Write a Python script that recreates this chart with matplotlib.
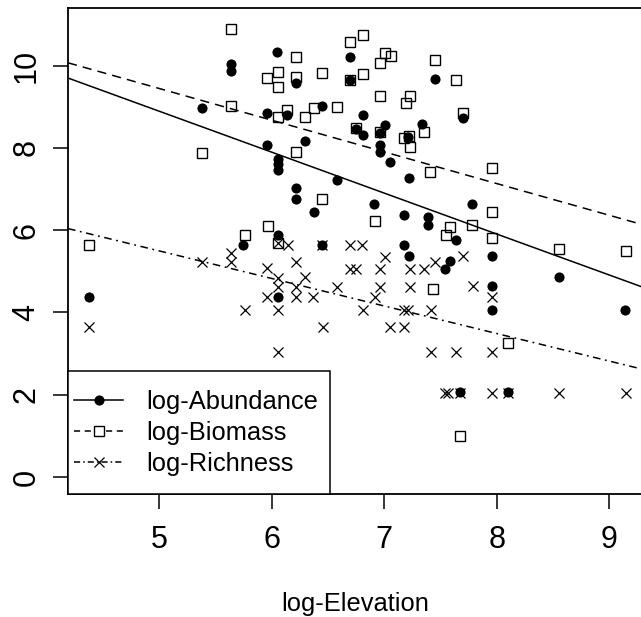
import matplotlib
matplotlib.use("Agg")
import matplotlib.pyplot as plt
from matplotlib.lines import Line2D
from matplotlib.patches import Rectangle
import numpy as np

plt.rcParams['font.family'] = ['Liberation Sans', 'DejaVu Sans']

# ---- data ----
abund_x = [4.38, 5.38, 5.64, 5.64, 5.75, 5.96, 5.96, 6.05, 6.06, 6.06, 6.06, 6.06, 6.06,
           6.14, 6.22, 6.22, 6.22, 6.30, 6.38, 6.45, 6.45, 6.58, 6.70, 6.70, 6.75, 6.81,
           6.81, 6.91, 6.96, 6.96, 6.96, 7.01, 7.05, 7.18, 7.18, 7.21, 7.22, 7.22, 7.34,
           7.39, 7.39, 7.45, 7.54, 7.58, 7.64, 7.67, 7.70, 7.78, 7.96, 7.96, 7.96, 8.10,
           8.55, 9.14]
abund_y = [4.37, 8.98, 10.05, 9.87, 5.64, 8.84, 8.07, 10.34, 7.74, 7.62, 7.46, 5.88, 4.37,
           8.81, 9.57, 7.02, 6.76, 8.17, 6.45, 9.02, 5.64, 7.22, 10.21, 9.65, 8.47, 8.80,
           8.31, 6.63, 8.35, 8.07, 7.91, 8.55, 7.66, 6.37, 5.65, 8.27, 7.26, 5.38, 8.57,
           6.33, 6.12, 9.67, 5.05, 5.25, 5.76, 2.06, 8.72, 6.63, 5.38, 4.64, 4.07, 2.06,
           4.87, 4.07]

biom_x = [4.38, 5.38, 5.64, 5.64, 5.76, 5.96, 5.97, 6.06, 6.06, 6.06, 6.06, 6.14, 6.22,
          6.22, 6.22, 6.30, 6.38, 6.45, 6.45, 6.58, 6.70, 6.70, 6.75, 6.81, 6.81, 6.92,
          6.96, 6.96, 6.96, 7.01, 7.06, 7.18, 7.19, 7.22, 7.23, 7.23, 7.35, 7.41, 7.43,
          7.45, 7.55, 7.58, 7.64, 7.67, 7.70, 7.78, 7.96, 7.96, 7.96, 8.10, 8.55, 9.15]
biom_y = [5.64, 7.88, 10.88, 9.02, 5.88, 9.69, 6.11, 9.85, 9.49, 8.76, 5.68, 8.92, 10.21,
          9.73, 7.91, 8.76, 8.96, 9.81, 6.76, 9.00, 10.58, 9.65, 8.49, 10.74, 9.79, 6.22,
          10.07, 9.25, 8.38, 10.31, 10.23, 8.25, 9.08, 8.30, 9.25, 8.03, 8.39, 7.42, 4.56,
          10.13, 5.88, 6.08, 9.65, 1.00, 8.84, 6.12, 7.52, 6.45, 5.80, 3.26, 5.54, 5.49]

rich_x = [4.38, 5.38, 5.64, 5.64, 5.76, 5.96, 5.96, 6.06, 6.06, 6.06, 6.06, 6.06, 6.15,
          6.22, 6.22, 6.22, 6.30, 6.37, 6.45, 6.46, 6.58, 6.70, 6.80, 6.70, 6.75, 6.81,
          6.92, 6.96, 6.96, 7.01, 7.05, 7.18, 7.21, 7.18, 7.23, 7.23, 7.35, 7.42, 7.42,
          7.45, 7.54, 7.57, 7.64, 7.67, 7.70, 7.79, 7.96, 7.96, 7.96, 8.10, 8.55, 9.15]
rich_y = [3.64, 5.23, 5.44, 5.23, 4.06, 5.07, 4.38, 5.68, 4.83, 4.62, 4.06, 3.05, 5.64,
          5.23, 4.62, 4.38, 4.87, 4.38, 5.64, 3.64, 4.62, 5.64, 5.64, 5.05, 5.05, 4.06,
          4.38, 5.05, 4.62, 5.35, 3.64, 4.06, 4.06, 3.64, 5.05, 4.62, 5.05, 4.06, 3.05,
          5.23, 2.05, 2.05, 3.05, 2.05, 5.38, 4.64, 4.38, 3.05, 2.05, 2.05, 2.05, 2.05]

series_labels = ["log-Abundance", "log-Biomass", "log-Richness"]
fit_intercepts = [13.873, 13.30, 8.847]
fit_slopes = [-0.996, -0.771, -0.670]

x_ticks = [5, 6, 7, 8, 9]
y_ticks = [0, 2, 4, 6, 8, 10]
x_label = "log-Elevation"

# ---- figure ----
W, H = 641, 617
fig = plt.figure(figsize=(W / 100, H / 100), dpi=100)
ax_left, ax_right = 68, 643.2
ax_top, ax_bot = 8, 494
ax = fig.add_axes([ax_left / W, (H - ax_bot) / H, (ax_right - ax_left) / W, (ax_bot - ax_top) / H])
ax.set_xlim(4.192, 9.30)
ax.set_ylim(-0.413, 11.40)

ax.plot(abund_x, abund_y, linestyle='none', marker='o', markersize=7.3,
        color='black', markeredgewidth=0)
ax.plot(biom_x, biom_y, linestyle='none', marker='s', markersize=7.2,
        markerfacecolor='none', markeredgecolor='black', markeredgewidth=1.0)
ax.plot(rich_x, rich_y, linestyle='none', marker='x', markersize=7.6,
        color='black', markeredgewidth=0.9)

styles = [dict(linestyle='-'),
          dict(linestyle=(0, (6, 4))),
          dict(linestyle=(0, (5, 3, 1.2, 3)))]
xs = np.array(ax.get_xlim())
for b0, b1, st in zip(fit_intercepts, fit_slopes, styles):
    ax.plot(xs, b0 + b1 * xs, color='black', linewidth=1.1, **st)

ax.set_xticks(x_ticks)
ax.set_yticks(y_ticks)
ax.tick_params(axis='both', direction='out', length=11, width=1.1, labelsize=22)
ax.tick_params(axis='x', pad=11)
ax.tick_params(axis='y', pad=8)
for lab in ax.get_yticklabels():
    lab.set_rotation(90)
    lab.set_va('center')
for sp in ax.spines.values():
    sp.set_linewidth(1.3)
ax.spines['right'].set_visible(False)

fig.text(355 / W, 1 - 604 / H, x_label, ha='center', va='center', fontsize=18.4)

# legend box (R-style, flush with lower-left corner of plot region)
box = Rectangle((ax_left / W, 1 - ax_bot / H), (330 - ax_left) / W, (ax_bot - 371) / H,
                transform=fig.transFigure, facecolor='white', edgecolor='black',
                linewidth=1.1, zorder=4)
ax.add_patch(box)
box.set_clip_on(False)

handles = [
    Line2D([], [], color='black', lw=1.1, linestyle='-', marker='o', markersize=7.3, markeredgewidth=0),
    Line2D([], [], color='black', lw=1.1, linestyle=(0, (4, 3)), marker='s', markersize=7.2,
           markerfacecolor='white', markeredgecolor='black', markeredgewidth=1.0),
    Line2D([], [], color='black', lw=1.1, linestyle=(0, (4, 2, 1, 2)), marker='x', markersize=7.6,
           markeredgewidth=0.9),
]
leg = ax.legend(handles, series_labels, loc='center left',
                bbox_to_anchor=(69 / W, 1 - 433 / H), bbox_transform=fig.transFigure,
                borderaxespad=0, frameon=False, fontsize=18.4, handlelength=1.92,
                handletextpad=0.9, borderpad=0.2, labelspacing=0.27)
leg.set_zorder(5)

fig.savefig("out.png", dpi=100)
